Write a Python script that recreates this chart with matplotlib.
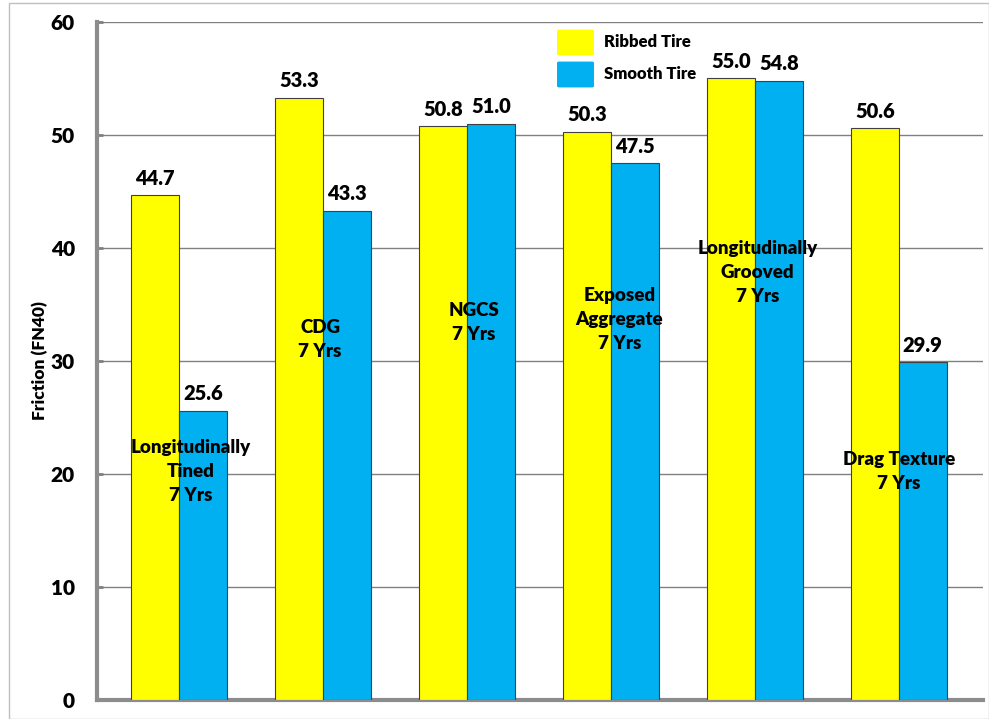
import matplotlib.pyplot as plt
from matplotlib.patches import FancyBboxPatch, Rectangle
import numpy as np

plt.rcParams['font.family'] = ['Lato', 'DejaVu Sans']
plt.rcParams['font.weight'] = 'heavy'

# data
categories = ['Longitudinally\nTined\n7 Yrs', 'CDG\n7 Yrs', 'NGCS\n7 Yrs',
              'Exposed\nAggregate\n7 Yrs', 'Longitudinally\nGrooved\n7 Yrs',
              'Drag Texture\n7 Yrs']
ribbed = [44.7, 53.3, 50.8, 50.3, 55.0, 50.6]
smooth = [25.6, 43.3, 51.0, 47.5, 54.8, 29.9]
label_y = [20.2, 31.9, 33.4, 33.7, 37.8, 20.2]
label_dx = [0.08, -0.02, 0.05, 0.06, 0.02, 0.0]
yticks = [0, 10, 20, 30, 40, 50, 60]

yellow = '#FFFF00'
blue = '#00B0F0'
wt = 'heavy'

fig = plt.figure(figsize=(9.89, 7.19), dpi=100)
fig.patches.append(Rectangle((9 / 989, 0), 1 - 9 / 989, 1 - 3 / 719, transform=fig.transFigure,
                             fill=False, edgecolor='#BFBFBF', linewidth=1))
ax = fig.add_axes([97 / 989, 19 / 719, 886 / 989, 678 / 719])

x = np.arange(len(categories))
w = 0.333
ax.bar(x - w / 2, ribbed, w, color=yellow, edgecolor='#404040', linewidth=0.8, zorder=3)
ax.bar(x + w / 2, smooth, w, color=blue, edgecolor='#404040', linewidth=0.8, zorder=3)

for i in range(len(x)):
    ax.text(x[i] - w / 2, ribbed[i] + 0.65, f'{ribbed[i]:.1f}', ha='center', va='bottom',
            fontsize=14.5, fontweight=wt, zorder=5)
    ax.text(x[i] + w / 2, smooth[i] + 0.65, f'{smooth[i]:.1f}', ha='center', va='bottom',
            fontsize=14.5, fontweight=wt, zorder=5)
    ax.text(x[i] + label_dx[i], label_y[i], categories[i], ha='center', va='center',
            fontsize=13.5, fontweight=wt, linespacing=1.5, zorder=5)

ax.set_xlim(-0.57, 5.585)
ax.set_ylim(0, 60)
ax.set_yticks(yticks)
ax.set_yticklabels([str(t) for t in yticks], fontsize=15, fontweight=wt)
ax.set_xticks([])
ax.yaxis.grid(True, color='#808080', linewidth=1, zorder=0)
ax.set_axisbelow(True)
ax.tick_params(axis='y', direction='in', length=4, width=2, color='#808080', pad=16)

for s in ['top', 'right']:
    ax.spines[s].set_visible(False)
for s in ['left', 'bottom']:
    ax.spines[s].set_color('#8C8C8C')
    ax.spines[s].set_linewidth(3)

ax.set_ylabel('Friction (FN40)', fontsize=12.5, fontweight=wt, labelpad=2)

# legend
for yy, col, lab in [(42, yellow, 'Ribbed Tire'), (74, blue, 'Smooth Tire')]:
    fig.patches.append(FancyBboxPatch((559 / 989, 1 - (yy + 12) / 719), 33 / 989, 23 / 719,
                                      boxstyle='round,pad=0.002', transform=fig.transFigure,
                                      facecolor=col, edgecolor='none'))
    fig.text(604 / 989, 1 - yy / 719, lab, fontsize=12, fontweight=wt, va='center')

fig.savefig('out.png', dpi=100)
